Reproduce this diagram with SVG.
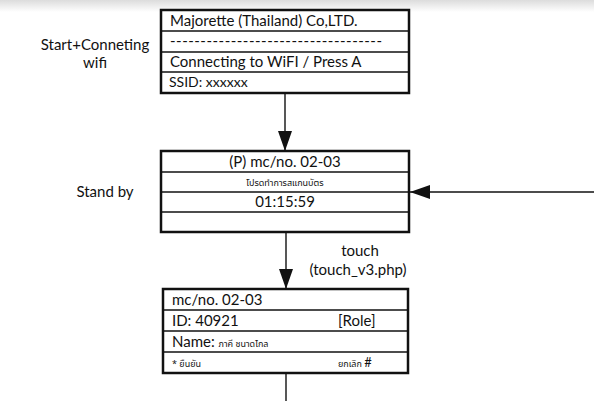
<svg xmlns="http://www.w3.org/2000/svg" width="594" height="401" viewBox="0 0 594 401">
<defs>
<linearGradient id="bg" x1="0" y1="0" x2="0" y2="1">
<stop offset="0" stop-color="#dcdcdc"/>
<stop offset="1" stop-color="#ffffff"/>
</linearGradient>
<style>
.t{font-family:Lato,"Liberation Sans",sans-serif;font-size:15px;fill:#111}
.s{font-family:"Noto Sans Thai","Noto Sans",Lato,sans-serif;font-size:9px;fill:#111}
.box{fill:#fff;stroke:#111;stroke-width:2.5}
.row{stroke:#111;stroke-width:1.5}
.c{stroke:#111;stroke-width:1.4;fill:none}
</style>
<marker id="ah" markerUnits="userSpaceOnUse" markerWidth="20" markerHeight="14" refX="20" refY="7" orient="auto">
<path d="M0,0 L20,7 L0,14 Z" fill="#111"/>
</marker>
</defs>
<rect width="594" height="401" fill="#fff"/>
<rect width="594" height="12" fill="url(#bg)"/>

<g id="label-start">
<text class="t" x="95" y="50" text-anchor="middle">Start+Conneting</text>
<text class="t" x="95" y="68" text-anchor="middle">wifi</text>
</g>

<g id="node-start">
<rect class="box" x="161" y="10" width="248" height="83"/>
<line class="row" x1="161" y1="31" x2="409" y2="31"/>
<line class="row" x1="161" y1="52" x2="409" y2="52"/>
<line class="row" x1="161" y1="72" x2="409" y2="72"/>
<text class="t" x="170" y="26">Majorette (Thailand) Co,LTD.</text>
<text class="t" x="170" y="46" textLength="212">-----------------------------------</text>
<text class="t" x="170" y="67">Connecting to WiFI / Press A</text>
<text class="t" x="169" y="87" style="font-size:14px">SSID: xxxxxx</text>
</g>

<g id="label-standby">
<text class="t" x="105" y="197" text-anchor="middle">Stand by</text>
</g>

<g id="node-standby">
<rect class="box" x="161" y="151" width="248" height="81"/>
<line class="row" x1="161" y1="172" x2="409" y2="172"/>
<line class="row" x1="161" y1="192" x2="409" y2="192"/>
<line class="row" x1="161" y1="212" x2="409" y2="212"/>
<text class="t" x="285" y="167" text-anchor="middle">(P) mc/no. 02-03</text>
<text class="s" x="285" y="186" text-anchor="middle">โปรดทำการสแกนบัตร</text>
<text class="t" x="285" y="207" text-anchor="middle">01:15:59</text>
</g>

<g id="label-touch">
<text class="t" x="360" y="256" text-anchor="middle">touch</text>
<text class="t" x="358" y="275" text-anchor="middle">(touch_v3.php)</text>
</g>

<g id="node-user">
<rect class="box" x="163" y="289" width="245" height="84"/>
<line class="row" x1="163" y1="310" x2="408" y2="310"/>
<line class="row" x1="163" y1="331" x2="408" y2="331"/>
<line class="row" x1="163" y1="352" x2="408" y2="352"/>
<text class="t" x="172" y="305">mc/no. 02-03</text>
<text class="t" x="172" y="326">ID: 40921</text>
<text class="t" x="338" y="326">[Role]</text>
<text class="t" x="172" y="347">Name: <tspan class="s">ภาคี ชนาดไกล</tspan></text>
<text class="s" x="172" y="367">* ยืนยัน</text>
<text class="s" x="338" y="367">ยกเลิก <tspan class="t" style="font-size:13px">#</tspan></text>
</g>

<g id="connectors">
<line class="c" x1="285" y1="93" x2="285" y2="151" marker-end="url(#ah)"/>
<line class="c" x1="286" y1="232" x2="286" y2="289" marker-end="url(#ah)"/>
<line class="c" x1="594" y1="192" x2="410" y2="192" marker-end="url(#ah)"/>
<line class="c" x1="286" y1="373" x2="286" y2="401"/>
</g>
</svg>
